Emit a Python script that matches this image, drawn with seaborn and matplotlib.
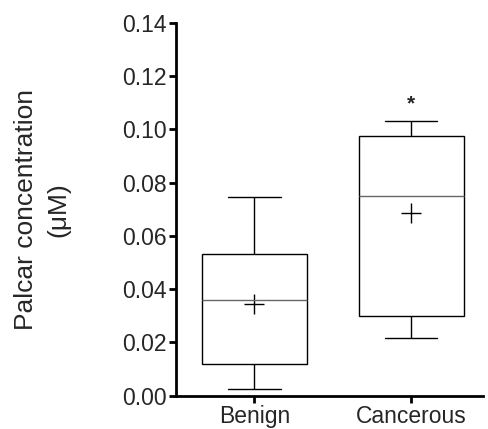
import numpy as np
import pandas as pd
import matplotlib
matplotlib.use('Agg')
import matplotlib.pyplot as plt
import seaborn as sns

# five-number summary (min, Q1, median, Q3, max) + mean
categories = ['Benign', 'Cancerous']
whisker_low = [0.0026, 0.0218]
q1 = [0.0118, 0.0300]
median = [0.0360, 0.0751]
q3 = [0.0532, 0.0976]
whisker_high = [0.0747, 0.1032]
means = [0.0344, 0.0685]
star_y = 0.1095

sns.set_style('ticks')
plt.rcParams['font.family'] = ['Liberation Sans', 'DejaVu Sans']

rows = []
for i, cat in enumerate(categories):
    for v in [whisker_low[i], q1[i], median[i], q3[i], whisker_high[i]]:
        rows.append({'Group': cat, 'Value': v})
df = pd.DataFrame(rows)

fig = plt.figure(figsize=(4.88, 4.29), dpi=100)
ax = fig.add_axes([0.361, 0.0776, 0.629, 0.8695])

sns.boxplot(data=df, x='Group', y='Value', whis=(0, 100), width=0.67,
            color='white', linecolor='black', linewidth=1,
            medianprops=dict(color='#666666', linewidth=1), ax=ax)

# mean shown as a plus sign
ax.plot([0, 1], means, linestyle='none', marker='+', markersize=14.5,
        markeredgewidth=1, color='black')
ax.text(1, star_y, '*', ha='center', va='center', fontsize=15, fontweight='bold')

ax.set_ylim(0, 0.14)
ax.set_xlim(-0.5, 1.46)
ax.set_yticks(np.arange(0, 0.141, 0.02))
ax.set_yticklabels([f'{t:.2f}' for t in np.arange(0, 0.141, 0.02)])
ax.set_xlabel('')
ax.set_ylabel('Palcar concentration\n(μM)', fontsize=19, linespacing=1.45)
ax.yaxis.set_label_coords(-0.345, 0.5)
ax.tick_params(axis='both', labelsize=16.5, width=2, length=5, pad=2, color='black')
for s in ['left', 'bottom']:
    ax.spines[s].set_linewidth(2)
    ax.spines[s].set_color('black')
sns.despine(ax=ax)

fig.savefig('out.png', dpi=100)
